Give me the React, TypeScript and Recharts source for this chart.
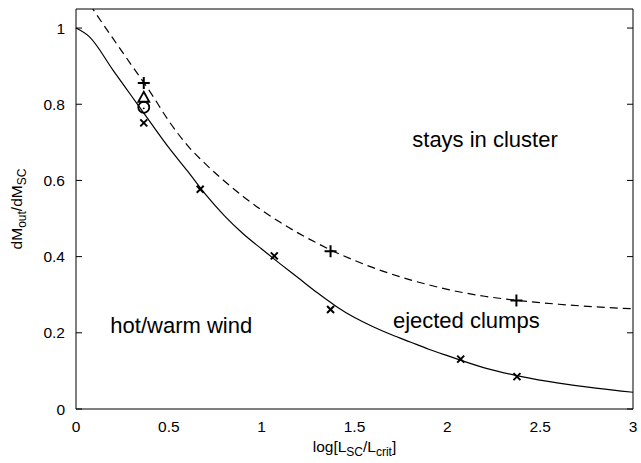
import { ComposedChart, Line, Scatter, XAxis, YAxis, ReferenceDot } from 'recharts';

// model curves
const solidX = [0, 0.07, 0.2, 0.3, 0.4, 0.5, 0.6, 0.7, 0.8, 0.9, 1.0, 1.1, 1.2, 1.3, 1.4, 1.5, 1.6, 1.7, 1.8, 1.9, 2.0, 2.2, 2.4, 2.6, 2.8, 3.0];
const solidY = [1.0, 0.978, 0.889, 0.821, 0.753, 0.686, 0.625, 0.562, 0.507, 0.46, 0.42, 0.381, 0.343, 0.305, 0.27, 0.24, 0.216, 0.195, 0.176, 0.157, 0.14, 0.108, 0.085, 0.068, 0.055, 0.044];

const dashedX = [0, 0.087, 0.2, 0.3, 0.4, 0.5, 0.6, 0.7, 0.8, 0.9, 1.0, 1.1, 1.2, 1.3, 1.4, 1.5, 1.6, 1.7, 1.8, 1.9, 2.0, 2.2, 2.4, 2.6, 2.8, 3.0];
const dashedY = [1.12, 1.053, 0.972, 0.902, 0.832, 0.756, 0.692, 0.642, 0.598, 0.558, 0.522, 0.49, 0.461, 0.435, 0.411, 0.39, 0.371, 0.354, 0.339, 0.326, 0.314, 0.296, 0.284, 0.275, 0.268, 0.263];

// simulation points
const plusX = [0.365, 1.371, 2.372];
const plusY = [0.856, 0.414, 0.285];
const crossX = [0.365, 0.669, 1.068, 1.371, 2.072, 2.375];
const crossY = [0.751, 0.577, 0.402, 0.261, 0.131, 0.085];
const triX = [0.365];
const triY = [0.817];
const circX = [0.365];
const circY = [0.792];

const xTicks = [0, 0.5, 1, 1.5, 2, 2.5, 3];
const yTicks = [0, 0.2, 0.4, 0.6, 0.8, 1];

const zip = (xs: number[], ys: number[]) => xs.map((x, i) => ({ x, y: ys[i] }));

const FONT = '"Liberation Sans", Arial, Helvetica, sans-serif';

const Plus = ({ cx, cy }: any) => (
  <path d={`M${cx - 6},${cy}H${cx + 6}M${cx},${cy - 6}V${cy + 6}`} stroke="#000" strokeWidth={2} fill="none" />
);
const Cross = ({ cx, cy }: any) => (
  <path d={`M${cx - 3.5},${cy - 3.5}L${cx + 3.5},${cy + 3.5}M${cx - 3.5},${cy + 3.5}L${cx + 3.5},${cy - 3.5}`} stroke="#000" strokeWidth={2} fill="none" />
);
const Tri = ({ cx, cy }: any) => (
  <path d={`M${cx},${cy - 6}L${cx + 5.5},${cy + 4}L${cx - 5.5},${cy + 4}Z`} stroke="#000" strokeWidth={1.8} fill="none" />
);
const Circ = ({ cx, cy }: any) => (
  <g>
    <circle cx={cx} cy={cy} r={5.5} stroke="#000" strokeWidth={1.8} fill="none" />
    <circle cx={cx} cy={cy + 1} r={0.9} fill="#000" />
  </g>
);

const XTitle = ({ viewBox }: any) => (
  <text x={viewBox.x + viewBox.width / 2} y={452} textAnchor="middle" fontFamily={FONT} fontSize={15.5} fill="#000">
    log[L<tspan dy={4} fontSize={12}>SC</tspan>
    <tspan dy={-4}>/L</tspan>
    <tspan dy={4} fontSize={12}>crit</tspan>
    <tspan dy={-4}>]</tspan>
  </text>
);

const YTitle = ({ viewBox }: any) => {
  const cy = viewBox.y + viewBox.height / 2;
  return (
    <text x={0} y={0} transform={`translate(22,${cy}) rotate(-90)`} textAnchor="middle" fontFamily={FONT} fontSize={15.5} fill="#000">
      dM<tspan dy={4} fontSize={12}>out</tspan>
      <tspan dy={-4}>/dM</tspan>
      <tspan dy={4} fontSize={12}>SC</tspan>
    </text>
  );
};

const tickStyle = { fill: '#000', fontSize: 15.5, fontFamily: FONT };
const noTick = () => <g />;
const textLabel = (value: string) => ({ value, position: 'center' as const, fill: '#000', fontSize: 22, fontFamily: FONT });

export default function App() {
  return (
    <div style={{ position: 'absolute', left: 0, top: 0, background: '#fff' }}>
      <ComposedChart width={641} height={463} margin={{ top: 9, right: 8, left: 0, bottom: 0 }}>
        {/* labelled axes */}
        <XAxis xAxisId="b" type="number" dataKey="x" domain={[0, 3]} ticks={xTicks} tickLine={false} axisLine={false} tickMargin={6} height={54} tick={tickStyle} label={<XTitle />} />
        <YAxis yAxisId="l" type="number" dataKey="y" domain={[0, 1.05]} allowDataOverflow ticks={yTicks} tickLine={false} axisLine={false} tickMargin={5} width={76} tick={tickStyle} label={<YTitle />} />
        {/* border with inward ticks on all four sides */}
        <XAxis xAxisId="bm" orientation="bottom" mirror type="number" dataKey="x" domain={[0, 3]} ticks={xTicks} tickSize={6} height={1} stroke="#000" tick={noTick} />
        <XAxis xAxisId="tm" orientation="top" mirror type="number" dataKey="x" domain={[0, 3]} ticks={xTicks} tickSize={6} height={1} stroke="#000" tick={noTick} />
        <YAxis yAxisId="lm" orientation="left" mirror type="number" dataKey="y" domain={[0, 1.05]} allowDataOverflow ticks={yTicks} tickSize={6} width={1} stroke="#000" tick={noTick} />
        <YAxis yAxisId="rm" orientation="right" mirror type="number" dataKey="y" domain={[0, 1.05]} allowDataOverflow ticks={yTicks} tickSize={6} width={1} stroke="#000" tick={noTick} />
        <Line xAxisId="b" yAxisId="l" data={zip(solidX, solidY)} dataKey="y" type="monotone" stroke="#000" strokeWidth={1.2} dot={false} isAnimationActive={false} />
        <Line xAxisId="b" yAxisId="l" data={zip(dashedX, dashedY)} dataKey="y" type="monotone" stroke="#000" strokeWidth={1.2} strokeDasharray="8 5" dot={false} isAnimationActive={false} />
        <Scatter xAxisId="b" yAxisId="l" data={zip(plusX, plusY)} shape={Plus} isAnimationActive={false} />
        <Scatter xAxisId="b" yAxisId="l" data={zip(crossX, crossY)} shape={Cross} isAnimationActive={false} />
        <Scatter xAxisId="b" yAxisId="l" data={zip(triX, triY)} shape={Tri} isAnimationActive={false} />
        <Scatter xAxisId="b" yAxisId="l" data={zip(circX, circY)} shape={Circ} isAnimationActive={false} />
        <ReferenceDot xAxisId="b" yAxisId="l" x={2.203} y={0.707} r={0} stroke="none" label={textLabel('stays in cluster')} />
        <ReferenceDot xAxisId="b" yAxisId="l" x={0.567} y={0.22} r={0} stroke="none" label={textLabel('hot/warm wind')} />
        <ReferenceDot xAxisId="b" yAxisId="l" x={2.102} y={0.233} r={0} stroke="none" label={textLabel('ejected clumps')} />
      </ComposedChart>
    </div>
  );
}
